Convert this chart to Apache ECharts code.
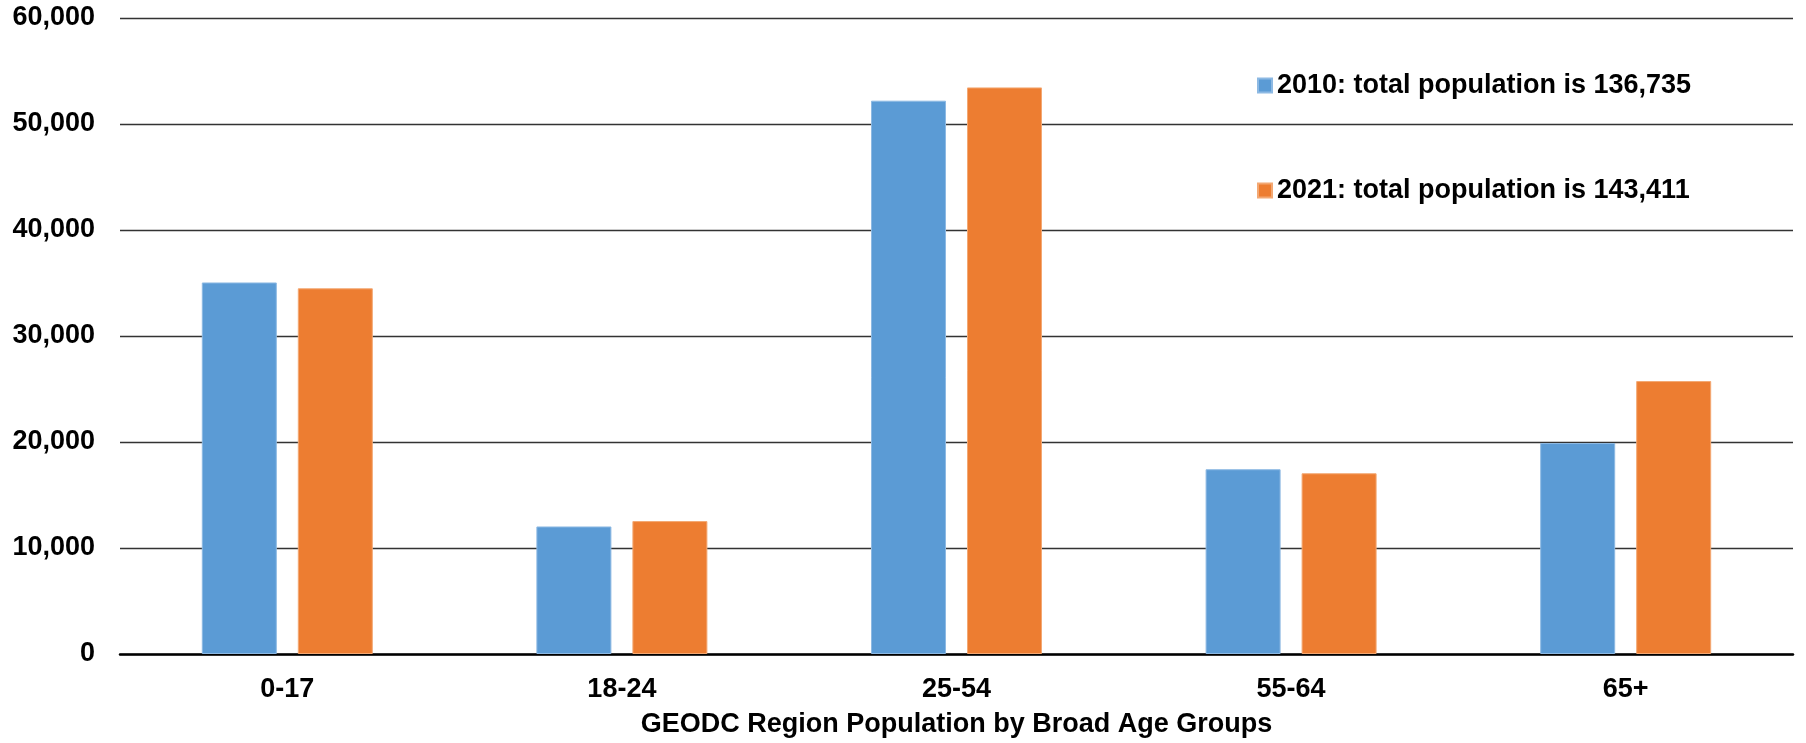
<!DOCTYPE html>
<html>
<head>
<meta charset="utf-8">
<script src="https://cdn.jsdelivr.net/npm/echarts@6/dist/echarts.min.js"></script>
<style>html,body{margin:0;padding:0;background:#fff}#c{width:1806px;height:743px}</style>
</head>
<body>
<div id="c"></div>
<script>
var categories = ['0-17', '18-24', '25-54', '55-64', '65+'];
var series2010 = [35050, 12030, 52200, 17430, 19900];
var series2021 = [34500, 12540, 53450, 17050, 25750];
var seriesNames = ['2010: total population is 136,735', '2021: total population is 143,411'];
var yTicks = [0, 10000, 20000, 30000, 40000, 50000, 60000];

var FONT = '"Liberation Sans", Arial, sans-serif';
var chart = echarts.init(document.getElementById('c'));
chart.setOption({
  animation: false,
  backgroundColor: '#ffffff',
  grid: { left: 120, right: 13, top: 18, bottom: 85, containLabel: false },
  legend: {
    orient: 'vertical',
    left: 1252,
    top: 67,
    itemWidth: 14,
    itemHeight: 14,
    itemGap: 78,
    icon: 'rect',
    textStyle: { fontFamily: FONT, fontWeight: 'bold', fontSize: 27, color: '#000' },
    data: seriesNames
  },
  xAxis: {
    type: 'category',
    data: categories,
    axisLine: { lineStyle: { color: '#000', width: 2.5 } },
    axisTick: { show: false },
    axisLabel: { margin: 22, fontFamily: FONT, fontWeight: 'bold', fontSize: 27, color: '#000' },
    name: 'GEODC Region Population by Broad Age Groups',
    nameLocation: 'middle',
    nameGap: 57,
    nameTextStyle: { fontFamily: FONT, fontWeight: 'bold', fontSize: 27, color: '#000' }
  },
  yAxis: {
    type: 'value',
    min: yTicks[0],
    max: yTicks[yTicks.length - 1],
    interval: 10000,
    axisLine: { show: false },
    axisTick: { show: false },
    splitLine: { lineStyle: { color: '#333', width: 1.3 } },
    axisLabel: {
      margin: 25,
      fontFamily: FONT, fontWeight: 'bold', fontSize: 27, color: '#000',
      formatter: function (v) { return v.toLocaleString('en-US'); }
    }
  },
  series: [
    {
      name: seriesNames[0], type: 'bar', data: series2010,
      barWidth: 75, barGap: '28%',
      itemStyle: { color: '#5B9BD5', borderColor: '#8DB9E3', borderWidth: 1 }
    },
    {
      name: seriesNames[1], type: 'bar', data: series2021,
      barWidth: 75, barGap: '28%',
      itemStyle: { color: '#ED7D31', borderColor: '#F3A873', borderWidth: 1 }
    }
  ]
});
</script>
</body>
</html>
